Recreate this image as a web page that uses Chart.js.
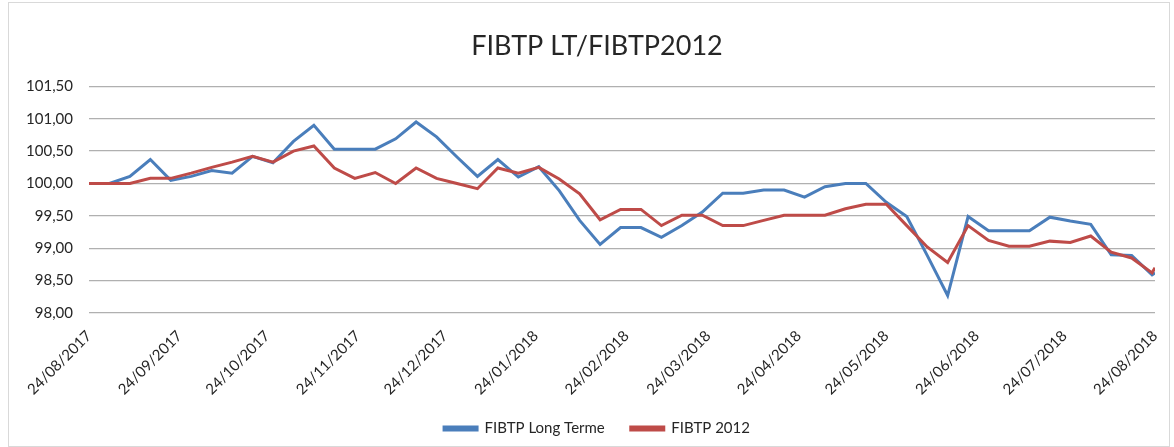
<!DOCTYPE html>
<html lang="fr">
<head>
<meta charset="utf-8">
<title>FIBTP LT/FIBTP2012</title>
<script src="https://cdn.jsdelivr.net/npm/chart.js@4/dist/chart.umd.min.js"></script>
<style>
  html, body { margin: 0; padding: 0; background: #fff; overflow: hidden; }
  #cadre { position: absolute; left: 8px; top: 2px; width: 1162px; height: 445px; border: 1px solid #d9d9d9; box-sizing: border-box; }
  #chart { position: absolute; left: 9px; top: 3px; display: block; }
</style>
</head>
<body>
<div id="cadre"></div>
<canvas id="chart" width="1176" height="443"></canvas>
<script>
'use strict';
// Graphique FIBTP LT / FIBTP 2012 — valeurs hebdo, 24/08/2017 → 24/08/2018.

// Jours écoulés depuis le 24/08/2017 (un point par semaine + le 24/08/2018).
const jours = [0, 7, 14, 21, 28, 35, 42, 49, 56, 63, 70, 77, 84, 91, 98, 105, 112, 119, 126, 133,
  140, 147, 154, 161, 168, 175, 182, 189, 196, 203, 210, 217, 224, 231, 238, 245, 252, 259, 266, 273,
  280, 287, 294, 301, 308, 315, 322, 329, 336, 343, 350, 357, 364, 365];

const longTerme = [100.00, 100.00, 100.11, 100.37, 100.05, 100.11, 100.20, 100.16, 100.42, 100.32,
  100.65, 100.90, 100.53, 100.53, 100.53, 100.69, 100.95, 100.72, 100.41, 100.11,
  100.37, 100.10, 100.26, 99.89, 99.43, 99.06, 99.32, 99.32, 99.17, 99.35,
  99.56, 99.85, 99.85, 99.90, 99.90, 99.79, 99.95, 100.00, 100.00, 99.71,
  99.49, 98.89, 98.27, 99.49, 99.27, 99.27, 99.27, 99.48, 99.42, 99.37,
  98.90, 98.89, 98.59, 98.62];

const fibtp2012 = [100.00, 100.00, 100.00, 100.08, 100.08, 100.16, 100.25, 100.33, 100.42, 100.33,
  100.50, 100.58, 100.24, 100.08, 100.17, 100.00, 100.24, 100.08, 100.00, 99.92,
  100.24, 100.16, 100.25, 100.07, 99.84, 99.44, 99.60, 99.60, 99.35, 99.51,
  99.51, 99.35, 99.35, 99.43, 99.51, 99.51, 99.51, 99.61, 99.68, 99.68,
  99.35, 99.02, 98.78, 99.35, 99.12, 99.03, 99.03, 99.11, 99.09, 99.19,
  98.94, 98.85, 98.62, 98.70];

// Graduations de l'axe des dates.
const datesAxe = ['24/08/2017', '24/09/2017', '24/10/2017', '24/11/2017', '24/12/2017', '24/01/2018',
  '24/02/2018', '24/03/2018', '24/04/2018', '24/05/2018', '24/06/2018', '24/07/2018', '24/08/2018'];
const yTicks = [98.0, 98.5, 99.0, 99.5, 100.0, 100.5, 101.0, 101.5];

const toUTC = s => { const [d, m, y] = s.split('/').map(Number); return Date.UTC(y, m - 1, d); };
const t0 = toUTC(datesAxe[0]);
const jourAxe = s => Math.round((toUTC(s) - t0) / 86400000);
const fNum = v => v.toFixed(2).replace('.', ',');

const serie = vals => vals.map((v, i) => ({ x: jours[i], y: v }));
const FONT = 'Lato, "Open Sans", sans-serif';
const BLEU = '#4A7EBB', ROUGE = '#BE4B48';

new Chart(document.getElementById('chart'), {
  type: 'line',
  data: {
    datasets: [
      { label: 'FIBTP Long Terme', data: serie(longTerme), borderColor: BLEU, backgroundColor: BLEU, borderWidth: 3, pointRadius: 0, tension: 0, order: 2 },
      { label: 'FIBTP 2012', data: serie(fibtp2012), borderColor: ROUGE, backgroundColor: ROUGE, borderWidth: 3, pointRadius: 0, tension: 0, order: 1 },
    ],
  },
  options: {
    responsive: false, animation: false,
    layout: { padding: 0 },
    plugins: {
      title: { display: true, text: 'FIBTP LT/FIBTP2012', color: '#262626', font: { family: FONT, size: 27, weight: 'normal' }, padding: { top: 27, bottom: 24 } },
      legend: {
        position: 'bottom',
        labels: { color: '#262626', font: { family: FONT, size: 15, lineHeight: 1 }, boxWidth: 33, boxHeight: 3, padding: 26,
          sort: (a, b) => a.datasetIndex - b.datasetIndex },
      },
      tooltip: { enabled: false },
    },
    scales: {
      x: {
        type: 'linear', min: 0, max: jourAxe(datesAxe[datesAxe.length - 1]),
        afterBuildTicks: sc => { sc.ticks = datesAxe.map(s => ({ value: jourAxe(s), label: s })); },
        afterFit: sc => { sc.height = 82; },
        grid: { display: false }, border: { display: false },
        ticks: { autoSkip: false, minRotation: 45, maxRotation: 45, padding: 6, color: '#262626', font: { family: FONT, size: 15 },
          callback: (v) => datesAxe.find(s => jourAxe(s) === v) || '' },
      },
      y: {
        min: 98, max: 101.5,
        afterBuildTicks: sc => { sc.ticks = yTicks.map(v => ({ value: v })); },
        afterFit: sc => { sc.width = 80; },
        grid: { color: '#b0b0b0', lineWidth: 1.3, drawTicks: false }, border: { display: false },
        ticks: { padding: 16, color: '#262626', font: { family: FONT, size: 15 }, callback: v => fNum(v) },
      },
      // marge de droite (axe vide) pour centrer titre et légende comme l'original
      marge: {
        type: 'linear', position: 'right', display: true,
        afterFit: sc => { sc.width = 30; },
        grid: { display: false }, border: { display: false }, ticks: { display: false },
      },
    },
  },
});
</script>
</body>
</html>
